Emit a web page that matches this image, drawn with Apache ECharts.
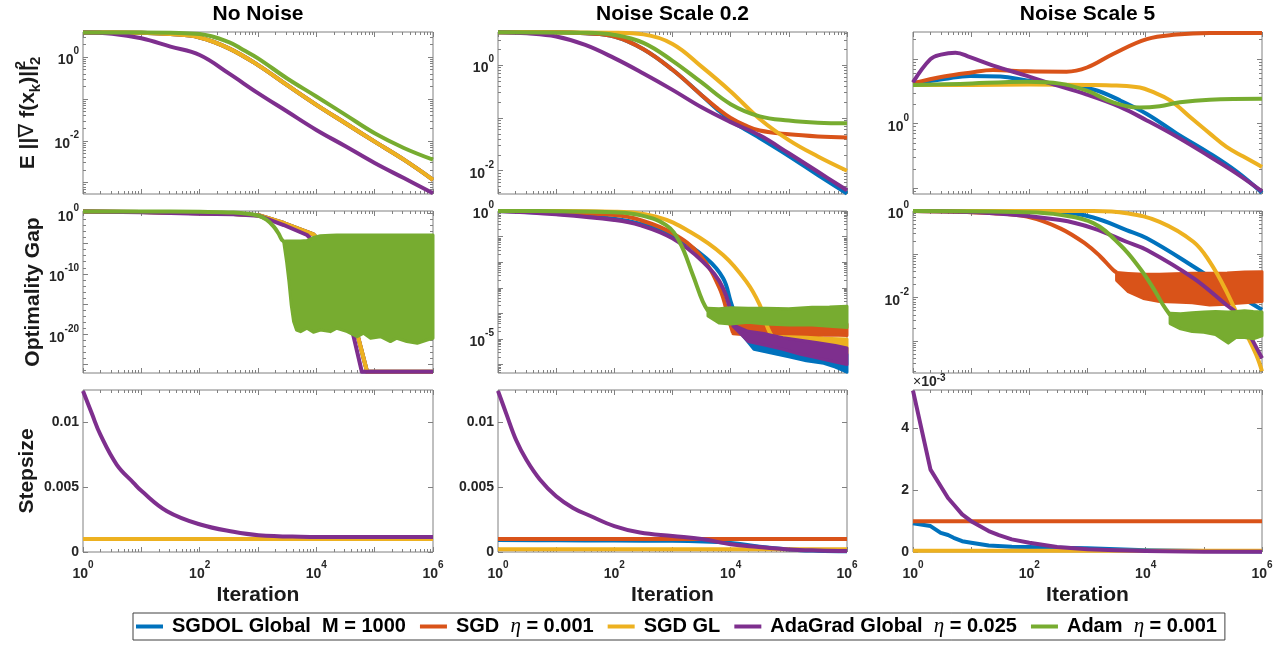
<!DOCTYPE html>
<html><head><meta charset="utf-8">
<script src="https://cdn.jsdelivr.net/npm/echarts@6/dist/echarts.min.js"></script>
<style>html,body{margin:0;padding:0;background:#fff}#c{width:1287px;height:645px}</style>
</head><body><div id="c"></div>
<script>
// ---------- methods ----------
const methodNames = ['SGDOL Global  M = 1000', 'SGD  η = 0.001', 'SGD GL', 'AdaGrad Global  η = 0.025', 'Adam  η = 0.001'];
const methodColors = ['#0072BD', '#D95319', '#EDB120', '#7E2F8E', '#77AC30'];
const colTitles = ['No Noise', 'Noise Scale 0.2', 'Noise Scale 5'];
const rowNames = ['E ||∇ f(x_k)||', 'Optimality Gap', 'Stepsize'];

// x values are log10(iteration); log panels hold log10(value)
const X_MAJOR = [0, 1, 2, 3, 4, 5, 6];
const X_LABELS = [0, 2, 4, 6];

// ---------- Panel A: No Noise, E||grad||^2 (log10) ----------
const A_x = [0, 0.5, 1, 1.5, 2, 2.5, 3, 3.5, 4, 4.5, 5, 5.5, 6];
const A_purple = [0.59, 0.56, 0.45, 0.25, 0.05, -0.39, -0.86, -1.3, -1.74, -2.13, -2.53, -2.89, -3.25];
const A_yellow = [0.59, 0.59, 0.58, 0.55, 0.47, 0.21, -0.19, -0.67, -1.14, -1.58, -2.02, -2.45, -2.93];
const A_gx = [0, 1, 1.5, 2, 2.5, 2.75, 3, 3.5, 4, 4.5, 5, 5.5, 6];
const A_green = [0.59, 0.59, 0.58, 0.55, 0.36, 0.17, -0.03, -0.51, -0.94, -1.38, -1.82, -2.17, -2.45];

// ---------- Panel B: Noise 0.2, E||grad||^2 (log10) ----------
const B_x = [0, 0.5, 1, 1.5, 2, 2.5, 3, 3.5, 4, 4.5, 5, 5.5, 6];
const B_purple = [0.62, 0.6, 0.54, 0.38, 0.13, -0.16, -0.47, -0.8, -1.08, -1.33, -1.67, -2.02, -2.37];
const B_ox = [0, 1, 1.5, 2, 2.5, 3, 3.5, 3.75, 4, 4.25, 4.5, 5, 5.5, 6];
const B_orange = [0.62, 0.62, 0.6, 0.54, 0.3, -0.09, -0.57, -0.8, -1.0, -1.14, -1.24, -1.31, -1.35, -1.37];
const B_blue = [0.62, 0.62, 0.6, 0.54, 0.3, -0.09, -0.57, -0.82, -1.05, -1.22, -1.38, -1.72, -2.08, -2.43];
const B_gx = [0, 1.5, 2, 2.5, 3, 3.5, 4, 4.5, 5, 5.5, 6];
const B_green = [0.62, 0.61, 0.57, 0.42, 0.08, -0.33, -0.74, -0.97, -1.05, -1.09, -1.1];
const B_yx = [0, 2, 2.5, 3, 3.5, 4, 4.5, 5, 5.5, 6];
const B_yellow = [0.62, 0.61, 0.58, 0.4, -0.03, -0.5, -1.02, -1.42, -1.73, -2.0];

// ---------- Panel C: Noise 5, E||grad||^2 (log10) ----------
const C_bx = [0, 0.53, 0.98, 1.5, 1.96, 2.53, 3.1, 3.56, 4.02, 4.53, 5.1, 5.56, 6];
const C_blue = [0.626, 0.69, 0.74, 0.73, 0.67, 0.6, 0.53, 0.36, 0.15, -0.15, -0.46, -0.74, -1.07];
const C_ox = [0, 0.53, 0.98, 1.38, 1.96, 2.64, 2.99, 3.44, 4.02, 4.53, 5.1, 6];
const C_orange = [0.626, 0.73, 0.79, 0.83, 0.81, 0.805, 0.87, 1.08, 1.31, 1.38, 1.405, 1.405];
const C_yx = [0, 1, 2, 3, 3.5, 3.9, 4.1, 4.42, 4.82, 5.1, 5.39, 5.68, 6];
const C_yellow = [0.6, 0.6, 0.605, 0.6, 0.59, 0.56, 0.5, 0.36, 0.06, -0.15, -0.36, -0.51, -0.67];
const C_px = [0, 0.3, 0.48, 0.73, 0.98, 1.38, 1.96, 2.3, 2.99, 3.56, 4.02, 4.53, 5.1, 5.56, 6];
const C_purple = [0.64, 1.0, 1.07, 1.10, 1.03, 0.90, 0.74, 0.64, 0.45, 0.26, 0.05, -0.2, -0.51, -0.77, -1.05];
const C_gx = [0, 0.81, 1.96, 2.53, 2.99, 3.44, 3.9, 4.24, 4.59, 5.1, 6];
const C_green = [0.6, 0.615, 0.65, 0.62, 0.51, 0.33, 0.25, 0.27, 0.33, 0.37, 0.385];

// ---------- Panel D: No Noise, optimality gap (log10) ----------
const D_yx = [0, 1, 2, 2.58, 3.01, 3.44, 3.95, 4.1, 4.3, 4.5, 4.6, 4.72, 4.87, 6];
const D_yellow = [0.3, 0.22, 0.02, -0.1, -0.3, -1.6, -3.47, -5.0, -7.8, -12.0, -15.0, -20.6, -26.2, -26.2];
const D_px = [0, 1, 2, 2.58, 3.01, 3.44, 3.84, 4.0, 4.2, 4.4, 4.5, 4.64, 4.78, 6];
const D_purple = [0.3, 0.17, -0.05, -0.17, -0.39, -1.93, -3.58, -5.1, -7.8, -12.2, -15.2, -20.4, -26.2, -26.2];
const D_gx = [0, 1, 2, 2.58, 3.01, 3.15, 3.27, 3.35, 3.41, 3.44];
const D_green = [0.3, 0.3, 0.25, 0.12, -0.39, -1.1, -2.2, -3.3, -4.4, -4.6];
const D_gbx = [3.44, 3.49, 3.53, 3.57, 3.61, 3.66, 3.73, 3.84, 3.95, 4.07, 4.24, 4.35, 4.53, 4.7, 4.81, 4.93, 5.1, 5.27, 5.38, 5.55, 5.73, 5.9, 6];
const D_gHi = [-4.6, -4.57, -4.57, -4.57, -4.57, -4.57, -4.57, -4.5, -4.0, -3.7, -3.62, -3.6, -3.58, -3.58, -3.58, -3.58, -3.58, -3.58, -3.58, -3.58, -3.58, -3.58, -3.58];
const D_gLo = [-4.7, -8, -11.3, -15.2, -17.9, -19.3, -19.56, -19.0, -19.67, -19.3, -19.56, -19.0, -19.56, -20.4, -19.83, -20.66, -20.4, -21.2, -20.66, -21.2, -21.5, -20.94, -20.66];

// ---------- Panel E: Noise 0.2, optimality gap (log10) ----------
const E_bx = [0, 1, 2, 2.44, 3, 3.58, 3.87, 4.0, 4.15];
const E_blue = [0, -0.1, -0.3, -0.5, -0.95, -1.85, -2.63, -3.54, -4.58];
const E_bbx = [4.15, 4.4, 4.7, 5.0, 5.3, 5.6, 5.8, 6];
const E_bHi = [-4.58, -5.0, -5.15, -5.3, -5.4, -5.5, -5.55, -5.6];
const E_bLo = [-4.7, -5.4, -5.55, -5.7, -5.85, -5.95, -6.1, -6.3];
const E_ox = [0, 1, 2, 2.44, 3, 3.47, 3.81, 3.98, 4.04];
const E_orange = [0, -0.05, -0.16, -0.35, -0.87, -1.72, -3.02, -4.32, -4.75];
const E_obx = [4.04, 4.3, 4.6, 5.0, 5.4, 5.7, 6];
const E_oHi = [-4.45, -4.45, -4.48, -4.45, -4.45, -4.44, -4.42];
const E_oLo = [-4.8, -4.85, -4.86, -4.85, -4.87, -4.85, -4.86];
const E_yx = [0, 1, 2, 2.72, 3.3, 3.87, 4.27, 4.5, 4.64, 4.73];
const E_yellow = [0, 0, -0.03, -0.22, -0.81, -1.72, -2.76, -3.67, -4.58, -4.97];
const E_ybx = [4.73, 5.0, 5.3, 5.6, 6];
const E_yHi = [-4.9, -4.91, -4.93, -4.97, -5.0];
const E_yLo = [-5.2, -5.36, -5.4, -5.45, -5.56];
const E_px = [0, 1, 2, 2.44, 3, 3.52, 3.87, 4.04];
const E_purple = [0, -0.13, -0.35, -0.55, -1.07, -1.98, -3.02, -4.45];
const E_pbx = [4.04, 4.3, 4.6, 4.9, 5.2, 5.5, 5.8, 6];
const E_pHi = [-4.45, -4.7, -4.8, -4.95, -5.05, -5.15, -5.25, -5.35];
const E_pLo = [-4.5, -5.1, -5.25, -5.4, -5.6, -5.75, -5.9, -6.0];
const E_gx = [0, 1, 2, 2.44, 2.89, 3.12, 3.35, 3.52, 3.61];
const E_green = [0, -0.01, -0.05, -0.16, -0.55, -1.2, -2.5, -3.54, -3.9];
const E_gbx = [3.61, 3.8, 4.0, 4.3, 4.6, 5.0, 5.4, 5.7, 6];
const E_gHi = [-3.8, -3.82, -3.78, -3.8, -3.8, -3.82, -3.76, -3.75, -3.72];
const E_gLo = [-4.1, -4.38, -4.42, -4.35, -4.42, -4.45, -4.45, -4.5, -4.55];

// ---------- Panel F: Noise 5, optimality gap (log10) ----------
const F_bx = [0, 2.53, 3.1, 3.67, 4.02, 4.82, 5.39, 5.68, 6];
const F_blue = [0, -0.03, -0.15, -0.44, -0.63, -1.28, -1.78, -2.02, -2.28];
const F_ox = [0, 1.38, 1.96, 2.53, 2.99, 3.22, 3.44, 3.5];
const F_orange = [0, -0.05, -0.13, -0.4, -0.78, -1.05, -1.36, -1.42];
const F_obx = [3.5, 3.7, 3.96, 4.24, 4.5, 4.8, 5.1, 5.4, 5.7, 6];
const F_oHi = [-1.42, -1.44, -1.46, -1.46, -1.45, -1.44, -1.44, -1.43, -1.41, -1.4];
const F_oLo = [-1.6, -1.86, -2.02, -2.09, -2.1, -2.12, -2.17, -2.15, -2.12, -2.09];
const F_yx = [0, 3.1, 3.67, 4.24, 4.82, 5.1, 5.39, 5.68, 5.9, 6];
const F_yellow = [0, 0, -0.05, -0.25, -0.71, -1.17, -1.86, -2.7, -3.32, -3.7];
const F_px = [0, 1.38, 2.53, 3.1, 3.67, 4.02, 4.82, 5.39, 5.56, 5.68, 6];
const F_purple = [0, -0.05, -0.21, -0.4, -0.71, -0.9, -1.55, -2.17, -2.35, -2.6, -3.4];
const F_gx = [0, 1.96, 2.53, 3.1, 3.56, 3.9, 4.13, 4.3, 4.42];
const F_green = [0, -0.03, -0.09, -0.28, -0.78, -1.32, -1.78, -2.17, -2.4];
const F_gbx = [4.42, 4.6, 4.8, 5.0, 5.2, 5.42, 5.55, 5.7, 5.85, 6];
const F_gHi = [-2.36, -2.37, -2.35, -2.33, -2.32, -2.33, -2.32, -2.3, -2.32, -2.33];
const F_gLo = [-2.6, -2.72, -2.78, -2.8, -2.85, -3.05, -2.92, -2.92, -2.95, -2.88];

// ---------- Panel G: No Noise, stepsize ----------
const G_px = [0, 0.15, 0.3, 0.58, 0.87, 1.01, 1.44, 2.01, 2.58, 3.01, 3.73, 4.5, 6];
const G_purple = [0.01243, 0.0107, 0.00903, 0.00673, 0.00532, 0.00468, 0.00315, 0.00212, 0.00156, 0.0013, 0.00118, 0.00115, 0.00115];
const G_yx = [0, 6];
const G_yellow = [0.001, 0.001];

// ---------- Panel H: Noise 0.2, stepsize ----------
const H_bx = [0, 1, 2, 3, 4, 4.5, 5, 5.5, 6];
const H_blue = [0.00092, 0.0009, 0.00088, 0.00086, 0.0007, 0.0004, 0.0002, 0.0001, 0.00005];
const H_ox = [0, 6];
const H_orange = [0.001, 0.001];
const H_yx = [0, 6];
const H_yellow = [0.00022, 0.00022];
const H_px = [0, 0.14, 0.315, 0.49, 0.72, 1.0, 1.29, 1.58, 2.0, 2.44, 3.0, 3.5, 4.0, 4.44, 5.0, 5.5, 6];
const H_purple = [0.01243, 0.0107, 0.0086, 0.0071, 0.0056, 0.0043, 0.0034, 0.0028, 0.0020, 0.0015, 0.00123, 0.001, 0.0006, 0.0004, 0.0002, 0.00012, 0.00008];

// ---------- Panel I: Noise 5, stepsize ----------
const I_bx = [0, 0.301, 0.477, 0.602, 0.699, 0.845, 1, 1.301, 1.699, 2, 2.477, 3, 4, 5, 6];
const I_blue = [0.00093, 0.00084, 0.00062, 0.00055, 0.00046, 0.00035, 0.0003, 0.00021, 0.00017, 0.00016, 0.00014, 0.00012, 0.00006, 0.00003, 0.00002];
const I_ox = [0, 6];
const I_orange = [0.001, 0.001];
const I_yx = [0, 6];
const I_yellow = [0.00004, 0.00004];
const I_px = [0, 0.301, 0.477, 0.602, 0.699, 0.845, 1, 1.301, 1.477, 1.699, 2, 2.477, 3, 3.477, 4, 5, 6];
const I_purple = [0.00523, 0.00267, 0.00213, 0.00175, 0.00154, 0.00122, 0.001, 0.00068, 0.00055, 0.00041, 0.0003, 0.00016, 0.000086, 0.000054, 0.000032, 0.000012, 0.000005];

// ---------- y-axis tick labels ----------
const A_yTicks = [-3, -2, -1, 0], A_yLabels = [-2, 0];
const B_yTicks = [-2, -1, 0], B_yLabels = [-2, 0];
const C_yTicks = [-1, 0, 1], C_yLabels = [0];
const D_yTicks = [-25, -20, -15, -10, -5, 0], D_yLabels = [-20, -10, 0];
const E_yTicks = [-6, -5, -4, -3, -2, -1, 0], E_yLabels = [-5, 0];
const F_yTicks = [-3, -2, -1, 0], F_yLabels = [-2, 0];
const GH_yTicks = [0, 0.005, 0.01];
const I_yTicks = [0, 0.002, 0.004];

// ---------- layout / style ----------
const FONT = 'Liberation Sans, Arial, Helvetica, sans-serif';
const TXT = '#262626';
const AX = '#808080';
const COL_LEFT = [83, 498, 913], COL_W = [350, 349, 349];
const ROW_TOP = [32, 211, 390], ROW_H = 162;

function logMinor(lo, hi, decadeOnly) {
  const out = [];
  for (let n = Math.floor(lo); n <= Math.ceil(hi); n++) {
    if (decadeOnly) { if (n % 5 !== 0 && n > lo && n < hi) out.push(n); continue; }
    for (let k = 2; k <= 9; k++) { const v = n + Math.log10(k); if (v > lo && v < hi) out.push(v); }
  }
  return out;
}
const X_MINOR = logMinor(0, 6, false);

const L = (k, x, y, sharp) => ({t: 'L', k, x, y, sharp: !!sharp});
const B = (k, x, lo, hi) => ({t: 'B', k, x, lo, hi});

const panels = [
  {r: 0, c: 0, kind: 'log', yMin: -3.27, yMax: 0.6, ticks: A_yTicks, labels: A_yLabels,
    items: [L(0, A_x, A_yellow), L(1, A_x, A_yellow), L(2, A_x, A_yellow), L(3, A_x, A_purple), L(4, A_gx, A_green)]},
  {r: 0, c: 1, kind: 'log', yMin: -2.44, yMax: 0.625, ticks: B_yTicks, labels: B_yLabels,
    items: [L(0, B_ox, B_blue), L(1, B_ox, B_orange), L(2, B_yx, B_yellow), L(3, B_x, B_purple), L(4, B_gx, B_green)]},
  {r: 0, c: 2, kind: 'log', yMin: -1.09, yMax: 1.42, ticks: C_yTicks, labels: C_yLabels,
    items: [L(0, C_bx, C_blue), L(1, C_ox, C_orange), L(2, C_yx, C_yellow), L(3, C_px, C_purple), L(4, C_gx, C_green)]},
  {r: 1, c: 0, kind: 'log', yMin: -26.4, yMax: 0.386, ticks: D_yTicks, labels: D_yLabels, decadeMinor: true,
    items: [L(0, D_yx, D_yellow, true), L(1, D_yx, D_yellow, true), L(2, D_yx, D_yellow, true), L(3, D_px, D_purple, true), L(4, D_gx, D_green), B(4, D_gbx, D_gLo, D_gHi)]},
  {r: 1, c: 1, kind: 'log', yMin: -6.33, yMax: 0, ticks: E_yTicks, labels: E_yLabels,
    items: [L(0, E_bx, E_blue), B(0, E_bbx, E_bLo, E_bHi), L(1, E_ox, E_orange), B(1, E_obx, E_oLo, E_oHi),
      L(2, E_yx, E_yellow), B(2, E_ybx, E_yLo, E_yHi), L(3, E_px, E_purple), B(3, E_pbx, E_pLo, E_pHi),
      L(4, E_gx, E_green), B(4, E_gbx, E_gLo, E_gHi)]},
  {r: 1, c: 2, kind: 'log', yMin: -3.74, yMax: 0, ticks: F_yTicks, labels: F_yLabels,
    items: [L(0, F_bx, F_blue), L(1, F_ox, F_orange), B(1, F_obx, F_oLo, F_oHi), L(2, F_yx, F_yellow),
      L(3, F_px, F_purple), L(4, F_gx, F_green), B(4, F_gbx, F_gLo, F_gHi)]},
  {r: 2, c: 0, kind: 'lin', yMin: 0, yMax: 0.0125, ticks: GH_yTicks, labels: GH_yTicks,
    items: [L(0, G_yx, G_yellow), L(1, G_yx, G_yellow), L(2, G_yx, G_yellow), L(3, G_px, G_purple)]},
  {r: 2, c: 1, kind: 'lin', yMin: 0, yMax: 0.0125, ticks: GH_yTicks, labels: GH_yTicks,
    items: [L(0, H_bx, H_blue), L(1, H_ox, H_orange), L(2, H_yx, H_yellow), L(3, H_px, H_purple)]},
  {r: 2, c: 2, kind: 'lin3', yMin: 0, yMax: 0.00525, ticks: I_yTicks, labels: I_yTicks,
    items: [L(0, I_bx, I_blue, true), L(1, I_ox, I_orange), L(2, I_yx, I_yellow), L(3, I_px, I_purple, true)]}
];

const LOGRICH = {
  b: {fontSize: 14, fontWeight: 'bold', fontFamily: FONT, color: TXT, lineHeight: 21, verticalAlign: 'bottom'},
  s: {fontSize: 10, fontWeight: 'bold', fontFamily: FONT, color: TXT, lineHeight: 12, verticalAlign: 'top'}
};
const logFmt = v => '{b|10}{s|' + Math.round(v) + '}';
const linFmt = v => (v === 0 ? '0' : String(+v.toFixed(4)));
const lin3Fmt = v => String(Math.round(v * 1000));

const NAMESTYLE = {fontSize: 21, fontWeight: 'bold', fontFamily: FONT, color: '#1a1a1a'};
const tick = (vals, len) => ({show: true, inside: true, length: len, customValues: vals, lineStyle: {color: AX, width: 1}});

const grids = [], xAxes = [], yAxes = [], series = [];

panels.forEach((p, g) => {
  grids.push({left: COL_LEFT[p.c], top: ROW_TOP[p.r], width: COL_W[p.c], height: ROW_H,
    show: true, borderColor: AX, borderWidth: 1, backgroundColor: '#fff'});

  const xBase = {type: 'value', gridIndex: g, min: 0, max: 6, splitLine: {show: false}, axisLine: {show: false, onZero: false}};
  const xMain = Object.assign({}, xBase, {position: 'bottom', axisTick: tick(X_MAJOR, 5)});
  if (p.r === 2) {
    xMain.axisLabel = {show: true, customValues: X_LABELS, formatter: logFmt, margin: 8, rich: LOGRICH,
      fontSize: 14, fontWeight: 'bold', fontFamily: FONT, color: TXT};
    xMain.name = 'Iteration'; xMain.nameLocation = 'middle'; xMain.nameGap = 33; xMain.nameTextStyle = NAMESTYLE;
  } else {
    xMain.axisLabel = {show: false};
  }
  xAxes.push(xMain);
  xAxes.push(Object.assign({}, xBase, {position: 'top', axisTick: tick(X_MAJOR, 5), axisLabel: {show: false}}));
  xAxes.push(Object.assign({}, xBase, {position: 'bottom', axisTick: tick(X_MINOR, 3), axisLabel: {show: false}}));
  xAxes.push(Object.assign({}, xBase, {position: 'top', axisTick: tick(X_MINOR, 3), axisLabel: {show: false}}));

  const yBase = {type: 'value', gridIndex: g, min: p.yMin, max: p.yMax, splitLine: {show: false}, axisLine: {show: false, onZero: false}};
  const yMain = Object.assign({}, yBase, {position: 'left', axisTick: tick(p.ticks, 5)});
  yMain.axisLabel = {show: true, customValues: p.labels, margin: 4, fontSize: 14, fontWeight: 'bold', fontFamily: FONT, color: TXT,
    formatter: p.kind === 'log' ? logFmt : (p.kind === 'lin' ? linFmt : lin3Fmt), rich: LOGRICH};
  if (p.c === 0) {
    yMain.nameLocation = 'middle'; yMain.nameRotate = 90;
    if (p.r === 0) {
      yMain.name = '{m|E ||}{n|∇}{m| f(x}{s|k}{m|)||}{p|2}{s|2}';
      yMain.nameGap = 40;
      yMain.nameTextStyle = Object.assign({}, NAMESTYLE, {rich: {
        m: {fontSize: 21, fontWeight: 'bold', fontFamily: FONT, color: '#1a1a1a', lineHeight: 30, verticalAlign: 'middle'},
        n: {fontSize: 21, fontWeight: 'normal', fontFamily: 'DejaVu Sans', color: '#1a1a1a', lineHeight: 30, verticalAlign: 'middle'},
        s: {fontSize: 15, fontWeight: 'bold', fontFamily: FONT, color: '#1a1a1a', lineHeight: 15, verticalAlign: 'bottom'},
        p: {fontSize: 15, fontWeight: 'bold', fontFamily: FONT, color: '#1a1a1a', lineHeight: 15, verticalAlign: 'top', width: 0.01}
      }});
    } else {
      yMain.name = rowNames[p.r];
      yMain.nameGap = p.r === 1 ? 39 : 45;
      yMain.nameTextStyle = NAMESTYLE;
    }
  }
  if (p.kind === 'lin3') {
    yMain.name = '{x|×}{b|10}{s|-3}';
    yMain.nameLocation = 'end';
    yMain.nameGap = 1;
    yMain.nameTextStyle = {align: 'left', verticalAlign: 'bottom', rich: {
      x: {fontSize: 14, fontFamily: FONT, color: TXT, lineHeight: 16, verticalAlign: 'bottom'},
      b: {fontSize: 14, fontWeight: 'bold', fontFamily: FONT, color: TXT, lineHeight: 16, verticalAlign: 'bottom'},
      s: {fontSize: 10, fontWeight: 'bold', fontFamily: FONT, color: TXT, lineHeight: 10, verticalAlign: 'top'}
    }};
  }
  yAxes.push(yMain);
  yAxes.push(Object.assign({}, yBase, {position: 'right', axisTick: tick(p.ticks, 5), axisLabel: {show: false}}));
  const yMinor = p.kind === 'log' ? logMinor(p.yMin, p.yMax, !!p.decadeMinor) : [];
  yAxes.push(Object.assign({}, yBase, {position: 'left', axisTick: tick(yMinor, 3), axisLabel: {show: false}}));
  yAxes.push(Object.assign({}, yBase, {position: 'right', axisTick: tick(yMinor, 3), axisLabel: {show: false}}));

  p.items.forEach((it, idx) => {
    const col = methodColors[it.k];
    const zz = 3 + idx;
    if (it.t === 'L') {
      series.push({type: 'line', name: methodNames[it.k], xAxisIndex: 4 * g, yAxisIndex: 4 * g, z: zz,
        data: it.x.map((x, i) => [x, it.y[i]]), symbol: 'none', showSymbol: false, clip: false, silent: true,
        smooth: it.sharp ? false : 0.4,
        lineStyle: {width: 4, color: col, join: 'round'}, itemStyle: {color: col}, emphasis: {disabled: true}});
    } else {
      series.push({type: 'custom', name: methodNames[it.k], xAxisIndex: 4 * g, yAxisIndex: 4 * g, z: zz,
        data: it.x.map((x, i) => [x, it.lo[i], it.hi[i]]), encode: {x: 0, y: [1, 2]}, clip: false, silent: true,
        itemStyle: {color: col},
        renderItem: function (params, api) {
          if (params.dataIndexInside !== 0) return null;
          const n = params.dataInsideLength, top = [], bot = [];
          for (let j = 0; j < n; j++) {
            top.push(api.coord([api.value(0, j), api.value(2, j)]));
            bot.push(api.coord([api.value(0, j), api.value(1, j)]));
          }
          return {type: 'polygon', shape: {points: top.concat(bot.reverse())},
            style: {fill: col, stroke: col, lineWidth: 3, lineJoin: 'round'}};
        }});
    }
  });
});

const titles = colTitles.map((t, c) => ({text: t, left: COL_LEFT[c] + COL_W[c] / 2, top: 4, textAlign: 'center', padding: 0,
  textStyle: {fontSize: 21, fontWeight: 'bold', fontFamily: FONT, color: '#000'}}));

const option = {
  animation: false,
  backgroundColor: '#fff',
  title: titles,
  grid: grids, xAxis: xAxes, yAxis: yAxes, series: series,
  legend: {
    data: methodNames, left: 133, top: 613, orient: 'horizontal', icon: 'rect', itemWidth: 27, itemHeight: 4, itemGap: 14,
    padding: [3, 8, 3, 3], borderColor: '#404040', borderWidth: 1, backgroundColor: '#fff', selectedMode: false, z: 20,
    formatter: n => n.replace('η', '{e|η}'),
    textStyle: {fontSize: 20, fontWeight: 'bold', fontFamily: FONT, color: '#000', lineHeight: 21, padding: [0, 0, 0, 4],
      rich: {e: {fontFamily: 'Liberation Serif, DejaVu Serif, serif', fontStyle: 'italic', fontWeight: 'normal', fontSize: 21, color: '#000', lineHeight: 21}}}
  }
};

const chart = echarts.init(document.getElementById('c'), null, {renderer: 'canvas'});
chart.setOption(option);
</script></body></html>
